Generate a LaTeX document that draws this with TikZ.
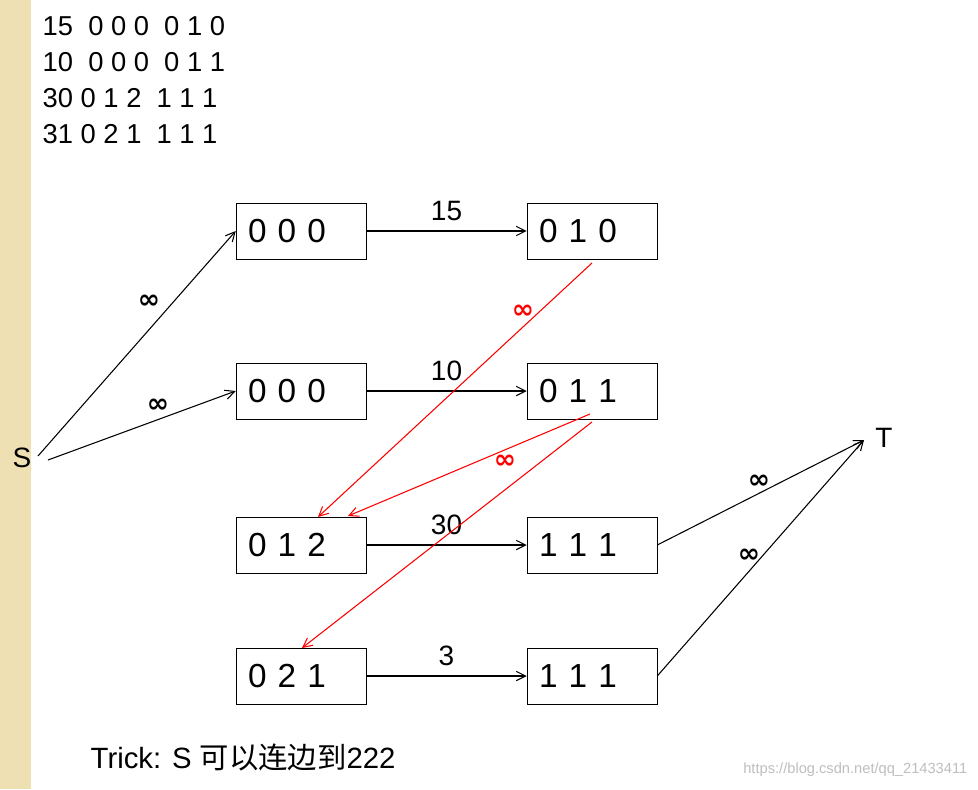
\documentclass[tikz,border=0pt]{standalone}
\usepackage{fontspec}
\usetikzlibrary{arrows.meta}
\setmainfont{Liberation Sans}
\newfontfamily\cjk{Noto Sans CJK SC}
\newfontfamily\djv{DejaVu Sans}
\definecolor{strip}{RGB}{238,224,178}
\begin{document}
\begin{tikzpicture}[x=0.75pt,y=-0.75pt,
  box/.style={draw,minimum width=130*0.75pt,minimum height=56*0.75pt,inner sep=0pt,font=\fontsize{25}{28}\selectfont,text width=106*0.75pt,align=left,xshift=0pt},
  lab/.style={font=\fontsize{21}{24}\selectfont},
  elab/.style={lab,above,yshift=4pt},
  inf/.style={font=\djv\bfseries\fontsize{20}{22}\selectfont},
  edge/.style={-{Straight Barb[length=7pt,width=7pt]},line width=0.8pt},
  redge/.style={edge,red}]
\useasboundingbox (0,0) rectangle (978,789);
\fill[white] (0,0) rectangle (978,789);
\fill[strip] (0,0) rectangle (31,789);
\node[anchor=west,align=left,font=\fontsize{20.5}{27}\selectfont] (hdr) at (38,80) {15~~0 0 0~~0 1 0\\10~~0 0 0~~0 1 1\\30 0 1 2~~1 1 1\\31~0 2 1~~1 1 1};
\node[box] (a1) at (301,231) {0 0 0};
\node[box] (b1) at (592,231) {0 1 0};
\node[box] (a2) at (301,391) {0 0 0};
\node[box] (b2) at (592,391) {0 1 1};
\node[box] (a3) at (301,545) {0 1 2};
\node[box] (b3) at (592,545) {1 1 1};
\node[box] (a4) at (301,676) {0 2 1};
\node[box] (b4) at (592,676) {1 1 1};
\node[lab] (S) at (22,458) {S};
\node[lab] (T) at (884,438) {T};
\coordinate (s1) at (38,456);
\coordinate (s2) at (48,460);
\coordinate (t) at (864,440);
\draw[edge] (s1) -- (a1.west);
\draw[edge] (s2) -- (a2.west);
\draw[edge] (a1) -- node[elab] {15} (b1);
\draw[edge] (a2) -- node[elab] {10} (b2);
\draw[edge] (a3) -- node[elab] {30} (b3);
\draw[edge] (a4) -- node[elab] {3} (b4);
\draw[edge] (b3.east) -- (t);
\draw[edge] (b4.east) -- (t);
\coordinate (r1) at (592,263);
\coordinate (r2) at (590,414);
\coordinate (r3) at (592,422);
\coordinate (e1) at (318,517);
\coordinate (e2) at (348,516);
\coordinate (e3) at (302,648);
\draw[redge] (r1) -- (e1);
\draw[redge] (r2) -- (e2);
\draw[redge] (r3) -- (e3);
\node[inf] (i1) at (149,302) {∞};
\node[inf] (i2) at (158,406) {∞};
\node[inf,red] (i3) at (523,312) {∞};
\node[inf,red] (i4) at (505,462) {∞};
\node[inf] (i5) at (759,482) {∞};
\node[inf] (i6) at (749,556) {∞};
\node[anchor=west,font=\fontsize{22}{25}\selectfont] (trick) at (86,757) {Trick: S {\cjk 可以连边到}222};
\node[anchor=east,text=black!25,font=\fontsize{11}{13}\selectfont] (wm) at (972,770) {https://blog.csdn.net/qq\_21433411};
\end{tikzpicture}
\end{document}
